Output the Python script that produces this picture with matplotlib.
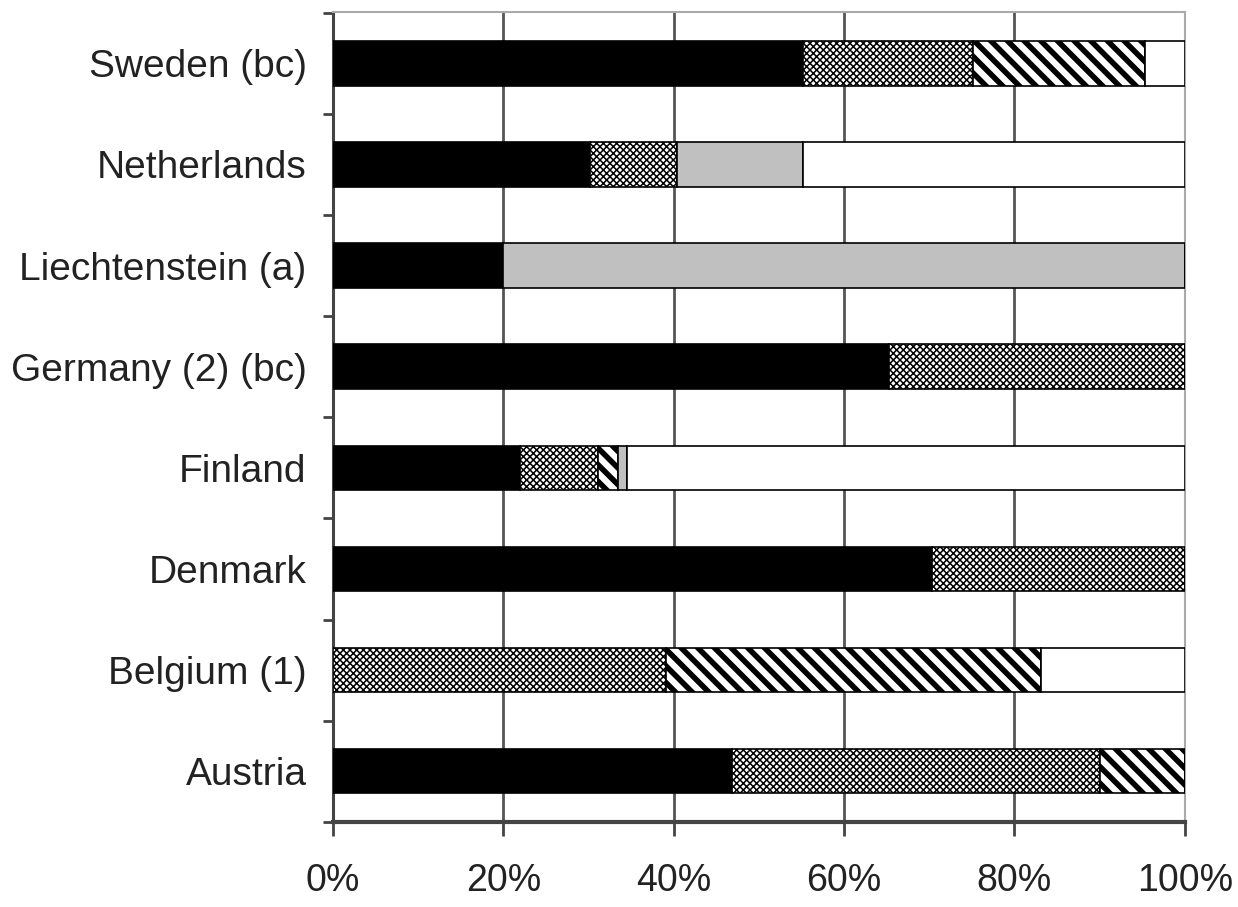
import numpy as np
import matplotlib
matplotlib.use("Agg")
from matplotlib import pyplot as plt
from matplotlib import font_manager


countries = ["Austria", "Belgium (1)", "Denmark", "Finland",
             "Germany (2) (bc)", "Liechtenstein (a)", "Netherlands", "Sweden (bc)"]

# shares in percent, one list per segment type (bottom to top order of countries)
black = [46.8, 0.0, 70.3, 22.0, 65.3, 20.0, 30.2, 55.2]
cross = [43.2, 39.1, 29.7, 9.1, 34.7, 0.0, 10.2, 19.9]
diag = [10.0, 44.0, 0.0, 2.4, 0.0, 0.0, 0.0, 20.2]
grey = [0.0, 0.0, 0.0, 1.0, 0.0, 80.0, 14.8, 0.0]
white = [0.0, 16.9, 0.0, 65.5, 0.0, 0.0, 44.8, 4.7]

x_ticks = [0, 20, 40, 60, 80, 100]

plt.rcParams['font.family'] = ['Liberation Sans', 'DejaVu Sans']
plt.rcParams['hatch.color'] = 'black'
plt.rcParams['hatch.linewidth'] = 1.1

# narrow face for the percent labels if it is there
names = {f.name for f in font_manager.fontManager.ttflist}
if 'Liberation Sans Narrow' in names:
    xfont, xsize = ['Liberation Sans Narrow', 'Liberation Sans'], 32
else:
    xfont, xsize = ['Liberation Sans'], 27

fig = plt.figure(figsize=(12.38, 9.07), dpi=100)
ax = fig.add_axes([0.269, 0.094, 0.688, 0.893])

y = np.arange(len(countries))
h = 0.44
left = np.zeros(len(countries))

styles = [
    (black, dict(color='black', edgecolor='black')),
    (cross, dict(color='white', edgecolor='black', hatch='xxxxx')),
    (diag, dict(color='white', edgecolor='black', hatch='\\\\')),
    (grey, dict(color='#c0c0c0', edgecolor='black')),
    (white, dict(color='white', edgecolor='black')),
]

for vals, kw in styles:
    vals = np.array(vals)
    bars = ax.barh(y, vals, left=left, height=h, linewidth=1.2, zorder=3, **kw)
    if kw.get('hatch') == '\\\\':
        for b in bars:
            try:
                b.set_hatch_linewidth(4.0)
            except AttributeError:
                pass
    left += vals

ax.set_xlim(0, 100)
ax.set_ylim(-0.49, len(countries) - 0.49)
ax.set_xticks(x_ticks)
ax.set_xticklabels([f"{t}%" for t in x_ticks], fontsize=xsize, color='#222222',
                   family=xfont)
ax.set_yticks(np.arange(-0.5, len(countries), 1.0))
ax.set_yticklabels([])
ax.set_yticks(y, minor=True)
ax.set_yticklabels(countries, minor=True, fontsize=28, color='#222222')
ax.tick_params(axis='y', which='minor', length=0, pad=19)
ax.tick_params(axis='y', which='major', length=7, width=2, color='#444444')
ax.tick_params(axis='x', length=10, width=2, color='#444444', pad=20)

for gx in [20, 40, 60, 80]:
    ax.axvline(gx, color='#555555', linewidth=2, zorder=1)

ax.spines['left'].set_color('#444444')
ax.spines['left'].set_linewidth(2.2)
ax.spines['bottom'].set_color('#444444')
ax.spines['bottom'].set_linewidth(3)
ax.spines['top'].set_color('#aaaaaa')
ax.spines['top'].set_linewidth(1.5)
ax.spines['right'].set_color('#aaaaaa')
ax.spines['right'].set_linewidth(1.5)

fig.savefig("out.png", dpi=100)
